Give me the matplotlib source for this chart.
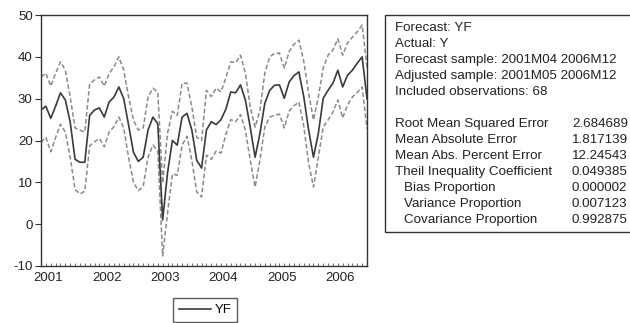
import matplotlib
matplotlib.use("Agg")
import matplotlib.pyplot as plt
from matplotlib.patches import Rectangle
import numpy as np

plt.rcParams['font.family'] = ['Liberation Sans', 'DejaVu Sans']

# Monthly observations 2001M05 .. 2006M12 (68 obs)
yf = [27.3, 28.2, 25.3, 28.2, 31.4, 29.7, 24.4, 15.5, 14.8, 14.8,
      26.0, 27.3, 27.8, 25.6, 29.2, 30.4, 32.8, 30.0, 23.7, 17.2,
      15.0, 16.0, 22.5, 25.6, 24.0, 1.0, 12.2, 20.0, 18.9, 25.6,
      26.5, 22.5, 15.3, 13.4, 22.5, 24.5, 23.8, 25.0, 27.5, 31.6,
      31.4, 33.3, 29.7, 23.2, 16.0, 21.7, 28.9, 32.0, 33.2, 33.3,
      30.1, 34.0, 35.5, 36.4, 30.5, 22.5, 16.0, 21.7, 30.1, 32.0,
      33.7, 36.8, 32.8, 35.6, 36.8, 38.5, 40.0, 30.0]
upper = [35.2, 36.1, 33.0, 36.0, 38.8, 36.8, 30.4, 23.0, 22.5, 22.0,
         33.5, 34.5, 35.2, 33.0, 36.0, 37.6, 40.0, 36.8, 30.5, 24.9,
         22.5, 23.0, 30.4, 32.5, 31.5, 9.8, 21.7, 27.0, 26.0, 33.7,
         33.7, 28.0, 20.8, 20.0, 32.0, 30.5, 32.5, 31.6, 35.0, 38.8,
         38.6, 40.4, 36.1, 28.0, 23.2, 27.3, 36.1, 40.0, 40.8, 40.9,
         37.3, 41.3, 43.0, 44.0, 39.0, 31.3, 24.9, 30.4, 37.3, 40.4,
         41.6, 44.3, 40.4, 43.3, 44.7, 46.0, 47.6, 37.5]
lower = [19.6, 20.8, 17.3, 20.7, 23.9, 22.0, 16.0, 8.3, 7.2, 7.9,
         18.7, 19.7, 20.5, 18.5, 22.0, 23.3, 25.6, 23.0, 16.0, 10.0,
         8.0, 9.0, 16.0, 18.9, 17.5, -7.6, 2.6, 12.0, 11.7, 18.9,
         21.0, 15.3, 7.7, 6.5, 16.5, 15.5, 17.5, 17.0, 21.5, 25.0,
         24.5, 26.2, 22.5, 15.3, 8.9, 15.3, 23.2, 25.6, 26.0, 26.3,
         23.0, 27.0, 28.3, 29.2, 23.5, 14.6, 8.9, 16.0, 23.2, 24.9,
         26.8, 29.7, 25.4, 28.5, 30.4, 31.5, 32.8, 22.8]
year_labels = ['2001', '2002', '2003', '2004', '2005', '2006']
y_ticks = [-10, 0, 10, 20, 30, 40, 50]

stat_header = ['Forecast: YF', 'Actual: Y',
               'Forecast sample: 2001M04 2006M12',
               'Adjusted sample: 2001M05 2006M12',
               'Included observations: 68']
stat_names = ['Root Mean Squared Error', 'Mean Absolute Error',
              'Mean Abs. Percent Error', 'Theil Inequality Coefficient',
              'Bias Proportion', 'Variance Proportion', 'Covariance Proportion']
stat_values = ['2.684689', '1.817139', '12.24543', '0.049385',
               '0.000002', '0.007123', '0.992875']
stat_indent = [False, False, False, False, True, True, True]

W, H = 630, 323
fig = plt.figure(figsize=(W / 100, H / 100), dpi=100)
ax = fig.add_axes([41 / W, 1 - 266 / H, 326 / W, 251 / H])

x = np.arange(len(yf))
ax.plot(x, upper, color='#8a8a8a', lw=1.1, ls=(0, (3, 1.6)))
ax.plot(x, lower, color='#8a8a8a', lw=1.1, ls=(0, (3, 1.6)))
ax.plot(x, yf, color='#3a3a3a', lw=1.2, label='YF')

ax.set_xlim(0, len(yf) - 1)
ax.set_ylim(-10, 50)
ax.set_yticks(y_ticks)
ax.set_yticklabels([str(v) for v in y_ticks])

# year labels centred in each year (Jan 2002 is index 8)
label_pos = [8 - 12 + 5.5 + 12 * k for k in range(len(year_labels))]
ax.set_xticks(label_pos)
ax.set_xticklabels(year_labels)
ax.tick_params(axis='x', which='major', length=0, pad=4, labelsize=9.5,
               labelcolor='#222222')
ax.set_xticks(np.arange(0, len(yf)), minor=True)
ax.tick_params(axis='x', which='minor', direction='in', length=2.5,
               width=0.6, color='#555555')
ax.tick_params(axis='y', direction='out', length=4, width=0.8,
               labelsize=9.5, labelcolor='#222222', color='#333333', pad=2)
for s in ax.spines.values():
    s.set_color('#333333')
    s.set_linewidth(1.0)

# legend below the plot
fig.legend(loc='upper left', bbox_to_anchor=(173 / W, 1 - 298 / H),
           frameon=True, fancybox=False, edgecolor='#333333',
           fontsize=9.5, handlelength=2.4, borderaxespad=0,
           borderpad=0.45, handletextpad=0.3)

# statistics box
bx0, by0, by1 = 385, 15, 232
fig.patches.append(Rectangle((bx0 / W, 1 - by1 / H), (W + 20 - bx0) / W,
                             (by1 - by0) / H, transform=fig.transFigure,
                             fill=False, edgecolor='#333333', lw=1.0))
tx = 395
line_y = 28
dy = 16
for t in stat_header:
    fig.text(tx / W, 1 - line_y / H, t, fontsize=9.6, va='center',
             color='#222222')
    line_y += dy
line_y += dy
for name, val, ind in zip(stat_names, stat_values, stat_indent):
    fig.text((tx + (9 if ind else 0)) / W, 1 - line_y / H, name,
             fontsize=9.6, va='center', color='#222222')
    fig.text(572 / W, 1 - line_y / H, val, fontsize=9.6, va='center',
             color='#222222')
    line_y += dy

fig.savefig('out.png', dpi=100)
